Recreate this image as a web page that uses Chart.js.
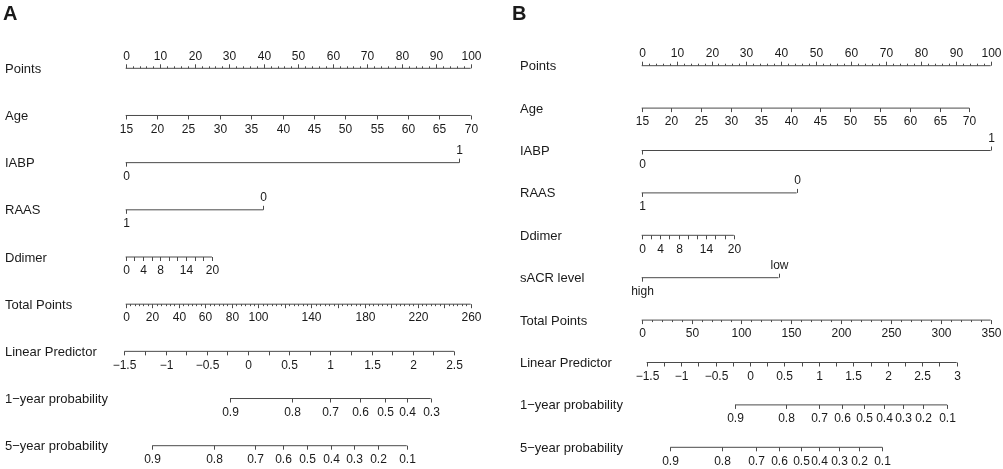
<!DOCTYPE html>
<html>
<head>
<meta charset="utf-8">
<title>Nomograms</title>
<script src="https://cdn.jsdelivr.net/npm/chart.js@4.4.1/dist/chart.umd.min.js"></script>
<style>
  html, body { margin: 0; padding: 0; background: #fff; }
  #wrap { position: relative; width: 1003px; height: 469px; }
  #chartA { position: absolute; left: 0; top: 0; }
  #chartB { position: absolute; left: 500px; top: 0; }
</style>
</head>
<body>
<div id="wrap">
  <canvas id="chartA" width="500" height="469"></canvas>
  <canvas id="chartB" width="503" height="469"></canvas>
</div>
<script>
// ---- values ----
const pointsLabels = [0, 10, 20, 30, 40, 50, 60, 70, 80, 90, 100];
const ageRange = [15, 70];
const ageLabels = [15, 20, 25, 30, 35, 40, 45, 50, 55, 60, 65, 70];
const ddimerRange = [0, 20];
const ddimerLabels = [0, 4, 8, 14, 20];
const iabpLevels = ['0', '1'];
const raasLevels = ['1', '0'];
const sacrLevels = ['high', 'low'];

// panel A: points given at each end of a predictor
const agePointsA = [0, 100];
const iabpPointsA = [0, 96.7];
const raasPointsA = [0, 39.9];
const ddimerPointsA = [0, 25.0];
const totalMaxA = 260;
const totalLabelsA = [0, 20, 40, 60, 80, 100, 140, 180, 220, 260];
const lpRangeA = [-1.5, 2.5];
const lpTotalA = [-1.05, 247.4];  // total points at the two LP ends
const lpLabelsA = [-1.5, -1, -0.5, 0, 0.5, 1, 1.5, 2, 2.5];
const prob1LabelsA = [0.9, 0.8, 0.7, 0.6, 0.5, 0.4, 0.3];
const prob1TotalA = [78.6, 125.1, 154.0, 176.6, 195.4, 212.2, 229.9];
const prob5LabelsA = [0.9, 0.8, 0.7, 0.6, 0.5, 0.4, 0.3, 0.2, 0.1];
const prob5TotalA = [20.0, 66.8, 97.4, 118.3, 136.9, 154.7, 172.3, 189.9, 211.8];

// panel B
const agePointsB = [0, 93.9];
const iabpPointsB = [0, 100];
const raasPointsB = [0, 44.4];
const ddimerPointsB = [0, 26.4];
const sacrPointsB = [0, 39.2];
const totalMaxB = 350;
const totalLabelsB = [0, 50, 100, 150, 200, 250, 300, 350];
const lpRangeB = [-1.5, 3];
const lpTotalB = [5.0, 315.9];
const lpLabelsB = [-1.5, -1, -0.5, 0, 0.5, 1, 1.5, 2, 2.5, 3];
const prob1LabelsB = [0.9, 0.8, 0.7, 0.6, 0.5, 0.4, 0.3, 0.2, 0.1];
const prob1TotalB = [93.6, 144.7, 177.5, 201.2, 223.2, 242.7, 262.0, 281.8, 306.2];
const prob5LabelsB = [0.9, 0.8, 0.7, 0.6, 0.5, 0.4, 0.3, 0.2, 0.1];
const prob5TotalB = [28.7, 80.2, 114.3, 138.0, 159.5, 178.1, 197.6, 217.9, 241.3];

const FONT = '"Liberation Sans", Arial, Helvetica, sans-serif';
const LINE = '#4a4a4a';
const TEXT = '#1a1a1a';

function fmt(v) {
  return String(v).replace('-', '\u2212');
}

// continuous scale: a tick every `step`, longer ones every `major`
function contRow(name, axis, vals, at, step, major, labels, up) {
  const ticks = [];
  const n = Math.round((vals[1] - vals[0]) / step);
  for (let k = 0; k <= n; k++) {
    const v = vals[0] + k * step;
    const isMajor = Math.abs(v / major - Math.round(v / major)) < 1e-6;
    const lab = labels.find(l => Math.abs(l - v) < 1e-6);
    ticks.push({
      at: at[0] + (v - vals[0]) * (at[1] - at[0]) / (vals[1] - vals[0]),
      len: isMajor ? 4 : 2,
      up: up,
      label: lab === undefined ? null : fmt(lab)
    });
  }
  return { name, axis, ticks };
}

// two-level factor: low end label below, high end label above
function levelRow(name, levels, at) {
  return {
    name, axis: 'x',
    ticks: levels.map((l, i) => ({ at: at[i], len: 4, up: i === levels.length - 1, label: l }))
  };
}

function probRow(name, labels, at) {
  return {
    name, axis: 'xt',
    ticks: labels.map((l, i) => ({ at: at[i], len: 4, up: false, label: fmt(l) }))
  };
}

const rowsA = [
  contRow('Points', 'x', [0, 100], [0, 100], 2, 10, pointsLabels, true),
  contRow('Age', 'x', ageRange, agePointsA, 5, 5, ageLabels, false),
  levelRow('IABP', iabpLevels, iabpPointsA),
  levelRow('RAAS', raasLevels, raasPointsA),
  contRow('Ddimer', 'x', ddimerRange, ddimerPointsA, 2, 2, ddimerLabels, false),
  contRow('Total Points', 'xt', [0, totalMaxA], [0, totalMaxA], 20 / 6, 20, totalLabelsA, false),
  contRow('Linear Predictor', 'xt', lpRangeA, lpTotalA, 0.25, 0.25, lpLabelsA, false),
  probRow('1\u2212year probability', prob1LabelsA, prob1TotalA),
  probRow('5\u2212year probability', prob5LabelsA, prob5TotalA)
];

const rowsB = [
  contRow('Points', 'x', [0, 100], [0, 100], 2, 10, pointsLabels, true),
  contRow('Age', 'x', ageRange, agePointsB, 5, 5, ageLabels, false),
  levelRow('IABP', iabpLevels, iabpPointsB),
  levelRow('RAAS', raasLevels, raasPointsB),
  contRow('Ddimer', 'x', ddimerRange, ddimerPointsB, 2, 2, ddimerLabels, false),
  levelRow('sACR level', sacrLevels, sacrPointsB),
  contRow('Total Points', 'xt', [0, totalMaxB], [0, totalMaxB], 10, 50, totalLabelsB, false),
  contRow('Linear Predictor', 'xt', lpRangeB, lpTotalB, 0.25, 0.25, lpLabelsB, false),
  probRow('1\u2212year probability', prob1LabelsB, prob1TotalB),
  probRow('5\u2212year probability', prob5LabelsB, prob5TotalB)
];

// ticks, tick labels and row names
const nomogramPlugin = {
  id: 'nomogram',
  afterDatasetsDraw(chart, args, opts) {
    const ctx = chart.ctx;
    const ys = chart.scales.y;
    ctx.save();
    ctx.fillStyle = TEXT;
    ctx.textBaseline = 'middle';
    ctx.font = 'bold 20px ' + FONT;
    ctx.textAlign = 'left';
    ctx.fillText(opts.letter, opts.letterX, 14);

    opts.rows.forEach((row, i) => {
      const xs = chart.scales[row.axis];
      const py = ys.getPixelForValue(i);
      ctx.font = '13px ' + FONT;
      ctx.textAlign = 'left';
      ctx.fillStyle = TEXT;
      ctx.fillText(row.name, opts.nameX, py + 1);

      ctx.strokeStyle = LINE;
      ctx.lineWidth = 1;
      ctx.font = '12px ' + FONT;
      ctx.textAlign = 'center';
      row.ticks.forEach(t => {
        const px = Math.round(xs.getPixelForValue(t.at)) + 0.5;
        const d = t.up ? -1 : 1;
        ctx.beginPath();
        ctx.moveTo(px, py);
        ctx.lineTo(px, py + d * t.len);
        ctx.stroke();
        if (t.label !== null) ctx.fillText(t.label, px, py + d * 13 + 1);
      });
    });
    ctx.restore();
  }
};

function makeChart(id, rows, totalMax, padding, letter, letterX, nameX) {
  const datasets = rows.map((row, i) => {
    const ats = row.ticks.map(t => t.at);
    return {
      label: row.name,
      xAxisID: row.axis,
      data: [{ x: Math.min(...ats), y: i }, { x: Math.max(...ats), y: i }],
      showLine: true,
      borderColor: LINE,
      borderWidth: 1,
      pointRadius: 0,
      clip: false
    };
  });
  const ctx = document.getElementById(id).getContext('2d');
  return new Chart(ctx, {
    type: 'scatter',
    data: { datasets },
    options: {
      responsive: false,
      animation: false,
      layout: { padding },
      plugins: {
        legend: { display: false },
        tooltip: { enabled: false },
        nomogram: { rows, letter, letterX, nameX }
      },
      scales: {
        x: { type: 'linear', min: 0, max: 100, display: false },
        xt: { type: 'linear', axis: 'x', min: 0, max: totalMax, display: false },
        y: { type: 'linear', min: 0, max: rows.length - 1, reverse: true, display: false }
      }
    },
    plugins: [nomogramPlugin]
  });
}

makeChart('chartA', rowsA, totalMaxA, { left: 125.7, right: 29.3, top: 68.3, bottom: 23.3 }, 'A', 3, 5);
makeChart('chartB', rowsB, totalMaxB, { left: 141.7, right: 12.3, top: 65.7, bottom: 21.7 }, 'B', 12, 20);
</script>
</body>
</html>
